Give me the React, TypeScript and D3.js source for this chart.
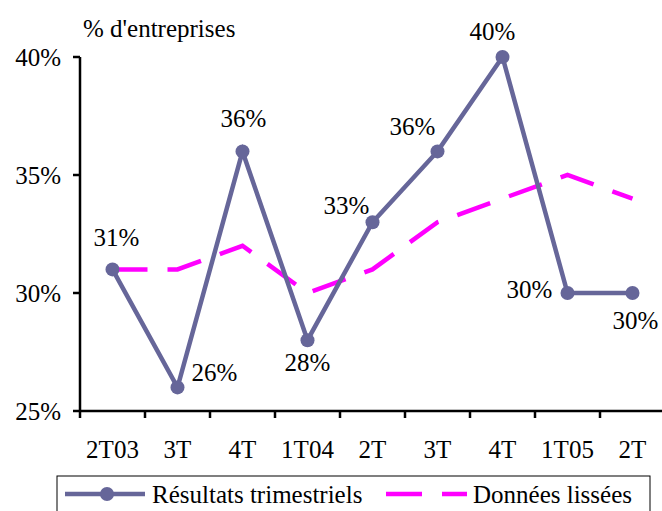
import React from "react";
import * as d3 from "d3";

const categories = ["2T03", "3T", "4T", "1T04", "2T", "3T", "4T", "1T05", "2T"];
const quarterly = [31, 26, 36, 28, 33, 36, 40, 30, 30];
const smoothed = [31, 31, 32, 30, 31, 33, 34, 35, 34];
const yTicks = [25, 30, 35, 40];
// label placement: [dx, dy] relative to point (text-anchor middle)
const labelPos: [number, number][] = [
  [4, -23],
  [37, -6],
  [1, -24],
  [0, 31],
  [-26, -8],
  [-25, -16],
  [-10, -17],
  [-38, 5],
  [3, 36],
];

const W = 662;
const H = 511;
const FONT = "Liberation Serif";

function T(props: any) {
  const { children, ...rest } = props;
  return (
    <text
      {...rest}
      fontSize={25}
      fill="#000"
      style={{ fontFamily: "'Liberation Serif', 'Times New Roman', Times, serif" }}
    >
      {children}
    </text>
  );
}

export default function App() {
  const x = d3
    .scaleBand<number>()
    .domain(d3.range(categories.length))
    .range([80, 665]);
  const y = d3.scaleLinear().domain([25, 40]).range([411, 57]);
  const cx = (i: number) => (x(i) as number) + x.bandwidth() / 2;

  const line = d3
    .line<number>()
    .x((_, i) => cx(i))
    .y((d) => y(d));

  return (
    <svg
      width={W}
      height={H}
      style={{ position: "absolute", left: 0, top: 0, background: "#fff" }}
      fontFamily={FONT}
    >
      <rect x={0} y={0} width={W} height={H} fill="#fff" />
      <T x={83} y={37}>
        % d'entreprises
      </T>
      <line x1={80} x2={80} y1={y(40)} y2={y(25)} stroke="#000" strokeWidth={2.5} />
      {yTicks.map((t) => (
        <g key={t}>
          <line x1={73} x2={80} y1={y(t)} y2={y(t)} stroke="#000" strokeWidth={2.5} />
          <T x={61} y={y(t) + 9} textAnchor="end">
            {t}%
          </T>
        </g>
      ))}
      <line x1={80} x2={665} y1={y(25)} y2={y(25)} stroke="#000" strokeWidth={2.5} />
      {d3.range(categories.length + 1).map((i) => {
        const xx = 80 + i * x.bandwidth();
        return (
          <line key={i} x1={xx} x2={xx} y1={y(25)} y2={y(25) + 7} stroke="#000" strokeWidth={2.5} />
        );
      })}
      {categories.map((c, i) => (
        <T key={i} x={cx(i)} y={458} textAnchor="middle">
          {c}
        </T>
      ))}
      <path
        d={line(smoothed) as string}
        fill="none"
        stroke="#FF00FF"
        strokeWidth={4.5}
        strokeDasharray="35 20"
      />
      <path d={line(quarterly) as string} fill="none" stroke="#666699" strokeWidth={4.5} />
      {quarterly.map((v, i) => (
        <circle key={i} cx={cx(i)} cy={y(v)} r={7} fill="#666699" />
      ))}
      {quarterly.map((v, i) => (
        <T key={i} x={cx(i) + labelPos[i][0]} y={y(v) + labelPos[i][1]} textAnchor="middle">
          {v}%
        </T>
      ))}
      <rect x={57} y={476} width={593} height={60} fill="none" stroke="#000" strokeWidth={1} />
      <line x1={65} x2={145} y1={494} y2={494} stroke="#666699" strokeWidth={4.5} />
      <circle cx={107} cy={494} r={7} fill="#666699" />
      <T x={152} y={503}>Résultats trimestriels</T>
      <line
        x1={386}
        x2={467}
        y1={494}
        y2={494}
        stroke="#FF00FF"
        strokeWidth={4.5}
        strokeDasharray="36 20"
      />
      <T x={473} y={503}>Données lissées</T>
    </svg>
  );
}
